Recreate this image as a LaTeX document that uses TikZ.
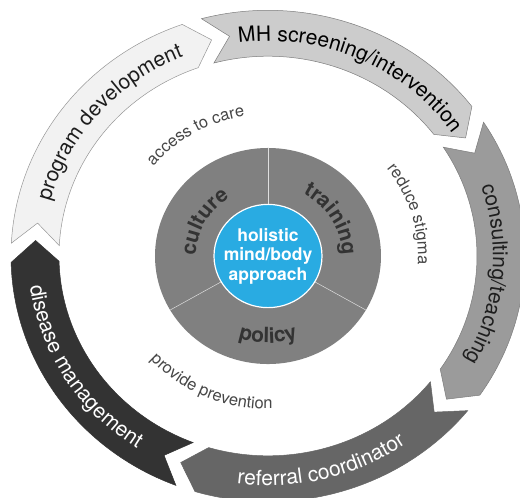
\documentclass[tikz,border=0pt]{standalone}
\usepackage{fontspec}
\setmainfont{TeX Gyre Heros}
\usetikzlibrary{decorations.text}
\usetikzlibrary{positioning}

\definecolor{progfill}{RGB}{242,242,242}
\definecolor{progline}{RGB}{150,150,150}
\definecolor{mhfill}{RGB}{204,204,204}
\definecolor{mhline}{RGB}{125,125,125}
\definecolor{consfill}{RGB}{155,155,155}
\definecolor{reffill}{RGB}{102,102,102}
\definecolor{disfill}{RGB}{51,51,51}
\definecolor{diskgray}{RGB}{128,128,128}
\definecolor{coreblue}{RGB}{41,171,226}
\definecolor{darktext}{RGB}{30,30,30}
\definecolor{thintext}{RGB}{70,70,70}

\newcommand\ringfont{\fontsize{21}{25}\selectfont}
\newcommand\sectfont{\fontsize{21}{25}\selectfont\bfseries}
\newcommand\notefont{\fontsize{16.5}{20}\selectfont}

\begin{document}
\begin{tikzpicture}[x=1pt,y=0.956pt,
  ringarrow/.style={line width=0.5pt,line join=miter},
  pathtext/.style={decorate,decoration={text along path,text align=center}},
  divider/.style={draw=white!75!gray,line width=0.5pt}]
\useasboundingbox (-268,-252.1) rectangle (252,267.8);
\clip (-268,-252.1) rectangle (252,267.8);

\draw[ringarrow,fill=progfill,draw=progline] (177:257) arc[start angle=177,end angle=109.5,radius=257] -- (104:233) -- (109.5:209) arc[start angle=109.5,end angle=177,radius=209] -- (171.5:233) -- cycle;
\draw[ringarrow,fill=mhfill,draw=mhline] (105:257) arc[start angle=105,end angle=37.5,radius=257] -- (32:233) -- (37.5:209) arc[start angle=37.5,end angle=105,radius=209] -- (99.5:233) -- cycle;
\draw[ringarrow,fill=consfill,draw=consfill!80!black] (33:257) arc[start angle=33,end angle=-34.5,radius=257] -- (-40:233) -- (-34.5:209) arc[start angle=-34.5,end angle=33,radius=209] -- (27.5:233) -- cycle;
\draw[ringarrow,fill=reffill,draw=reffill] (-39:257) arc[start angle=-39,end angle=-106.5,radius=257] -- (-112:233) -- (-106.5:209) arc[start angle=-106.5,end angle=-39,radius=209] -- (-44.5:233) -- cycle;
\draw[ringarrow,fill=disfill,draw=disfill] (-111:257) arc[start angle=-111,end angle=-178.5,radius=257] -- (-184:233) -- (-178.5:209) arc[start angle=-178.5,end angle=-111,radius=209] -- (-116.5:233) -- cycle;

\path[pathtext,decoration={text={|\ringfont|program development},text color=darktext}] (179:225) arc[start angle=179,end angle=99,radius=225];
\path[pathtext,decoration={text={|\ringfont|MH screening/intervention},text color=black}] (106:225) arc[start angle=106,end angle=26,radius=225];
\path[pathtext,decoration={text={|\ringfont|consulting/teaching},text color=darktext}] (35:225) arc[start angle=35,end angle=-45,radius=225];
\path[pathtext,decoration={text={|\ringfont|referral coordinator},text color=white}] (-116:240) arc[start angle=-116,end angle=-36,radius=240];
\path[pathtext,decoration={text={|\ringfont|disease management},text color=white}] (-188:240) arc[start angle=-188,end angle=-108,radius=240];

\path[pathtext,decoration={text={|\notefont|access to care},text color=thintext}] (150:148) arc[start angle=150,end angle=90,radius=148];
\path[pathtext,decoration={text={|\notefont|reduce stigma},text color=thintext}] (47:150) arc[start angle=47,end angle=-13,radius=150];
\path[pathtext,decoration={text={|\notefont|provide prevention},text color=thintext}] (-148:160) arc[start angle=-148,end angle=-78,radius=160];

\fill[diskgray] (0,0) circle[radius=113];
\draw[divider] (90:54) -- (90:113);
\draw[divider] (210:54) -- (210:113);
\draw[divider] (330:54) -- (330:113);

\path[pathtext,decoration={text={|\sectfont|culture},text color=disfill}] (182:72) arc[start angle=182,end angle=120,radius=72];
\path[pathtext,decoration={text={|\sectfont|training},text color=disfill}] (62:74) arc[start angle=62,end angle=0,radius=74];
\path[pathtext,decoration={text={|\sectfont|policy},text color=disfill}] (-125:91) arc[start angle=-125,end angle=-55,radius=91];

\draw[fill=coreblue,draw=white,line width=1.2pt] (0,0) circle[radius=54];
\node[font=\fontsize{17.5}{19.5}\selectfont\bfseries,text=white,align=center] (core) at (0,0) {holistic\\mind/body\\approach};

\end{tikzpicture}
\end{document}
